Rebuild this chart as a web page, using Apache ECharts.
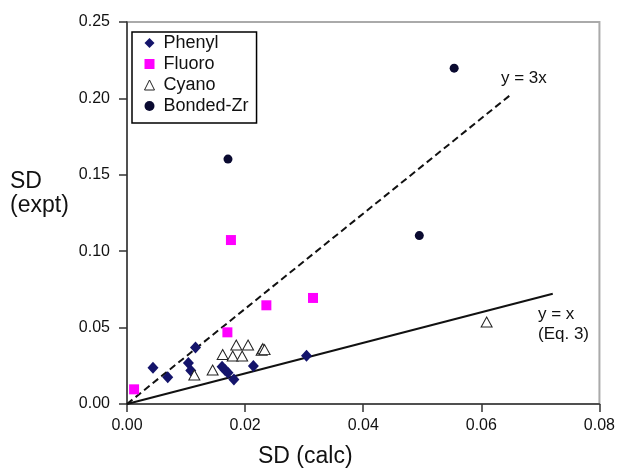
<!DOCTYPE html>
<html>
<head>
<meta charset="utf-8">
<script src="https://cdn.jsdelivr.net/npm/echarts@6/dist/echarts.min.js"></script>
<style>
  html, body { margin: 0; padding: 0; background: #fff; }
  #chart { width: 618px; height: 469px; }
</style>
</head>
<body>
<div id="chart"></div>
<script>
// ---- data ----
var phenyl = [[0.0044,0.0238],[0.0069,0.0175],[0.0116,0.0370],[0.0104,0.0268],[0.0108,0.0220],
              [0.0161,0.0243],[0.0166,0.0222],[0.0171,0.0205],[0.0181,0.0160],[0.0214,0.0249],[0.0304,0.0316]];
var fluoro = [[0.0012,0.0096],[0.0170,0.0469],[0.0176,0.1073],[0.0236,0.0646],[0.0315,0.0694]];
var cyano = [[0.0114,0.0190],[0.0145,0.0222],[0.0162,0.0324],[0.0179,0.0314],[0.0195,0.0314],
             [0.0185,0.0386],[0.0205,0.0386],[0.0228,0.0352],[0.0230,0.0362],[0.0233,0.0356],[0.0609,0.0537]];
var bondedZr = [[0.0171,0.1603],[0.0554,0.2198],[0.0495,0.1102]];
var lineYx = [[0, 0], [0.0721, 0.0722]];
var line3x = [[0, 0], [0.0650, 0.2025]];
var seriesNames = ['Phenyl', 'Fluoro', 'Cyano', 'Bonded-Zr'];
var xTicks = {min: 0, max: 0.08, interval: 0.02};
var yTicks = {min: 0, max: 0.25, interval: 0.05};
var xTitle = 'SD (calc)';
var yTitle = 'SD\n(expt)';

var FONT = 'Liberation Sans, Arial, Helvetica, sans-serif';
var chart = echarts.init(document.getElementById('chart'), null, {renderer: 'canvas'});

var axisCommon = {
  type: 'value',
  axisLine: {show: true, lineStyle: {color: '#333', width: 1.5}},
  axisTick: {show: true, inside: false, length: 8, lineStyle: {color: '#333', width: 1.5}},
  splitLine: {show: false},
  axisLabel: {color: '#111', fontSize: 16, fontFamily: FONT, formatter: function (v) { return v.toFixed(2); }}
};

var option = {
  animation: false,
  backgroundColor: '#fff',
  grid: {left: 127, right: 14, top: 22, bottom: 65, show: true, borderColor: '#aaa', borderWidth: 2, backgroundColor: 'transparent'},
  xAxis: Object.assign({}, axisCommon, {
    min: xTicks.min, max: xTicks.max, interval: xTicks.interval,
    axisLabel: Object.assign({}, axisCommon.axisLabel, {margin: 14})
  }),
  yAxis: Object.assign({}, axisCommon, {
    min: yTicks.min, max: yTicks.max, interval: yTicks.interval,
    axisLabel: Object.assign({}, axisCommon.axisLabel, {margin: 17})
  }),
  legend: {
    orient: 'vertical', left: 132, top: 32,
    padding: [2, 8, 8, 12],
    itemWidth: 10, itemHeight: 10, itemGap: 3,
    borderColor: '#000', borderWidth: 1.5, backgroundColor: '#fff',
    textStyle: {color: '#111', fontSize: 18, fontFamily: FONT, lineHeight: 18, padding: [0, 0, 0, 4]},
    data: [
      {name: seriesNames[0], icon: 'diamond', itemStyle: {color: '#14146b', opacity: 1}},
      {name: seriesNames[1], icon: 'rect', itemStyle: {color: '#ff00ff', opacity: 1}},
      {name: seriesNames[2], icon: 'triangle', itemStyle: {color: '#fff', borderColor: '#222', borderWidth: 1, opacity: 1}},
      {name: seriesNames[3], icon: 'circle', itemStyle: {color: '#0a0a30', opacity: 1}}
    ]
  },
  graphic: [
    {type: 'text', left: 10, top: 170, style: {text: yTitle, fontSize: 23, fontFamily: FONT, fill: '#111', lineHeight: 24}},
    {type: 'text', left: 258, top: 445, style: {text: xTitle, fontSize: 23, fontFamily: FONT, fill: '#111'}},
    {type: 'text', left: 501, top: 70, style: {text: 'y = 3x', fontSize: 17, fontFamily: FONT, fill: '#111'}},
    {type: 'text', left: 538, top: 304, style: {text: 'y = x\n(Eq. 3)', fontSize: 17, fontFamily: FONT, fill: '#111', lineHeight: 20}}
  ],
  series: [
    {type: 'line', data: line3x, showSymbol: false, silent: true, legendHoverLink: false,
     lineStyle: {color: '#111', width: 2, type: [7, 4]}, z: 1},
    {type: 'line', data: lineYx, showSymbol: false, silent: true, legendHoverLink: false,
     lineStyle: {color: '#111', width: 2}, z: 1},
    {name: seriesNames[0], type: 'scatter', data: phenyl, symbol: 'diamond', symbolSize: [11, 12],
     itemStyle: {color: '#14146b', opacity: 1}, z: 3},
    {name: seriesNames[1], type: 'scatter', data: fluoro, symbol: 'rect', symbolSize: 10,
     itemStyle: {color: '#ff00ff', opacity: 1}, z: 3},
    {name: seriesNames[2], type: 'scatter', data: cyano, symbol: 'triangle', symbolSize: [11, 10],
     itemStyle: {color: '#fff', borderColor: '#222', borderWidth: 1, opacity: 1}, z: 4},
    {name: seriesNames[3], type: 'scatter', data: bondedZr, symbol: 'circle', symbolSize: 9,
     itemStyle: {color: '#0a0a30', opacity: 1}, z: 3}
  ]
};
chart.setOption(option);
</script>
</body>
</html>
